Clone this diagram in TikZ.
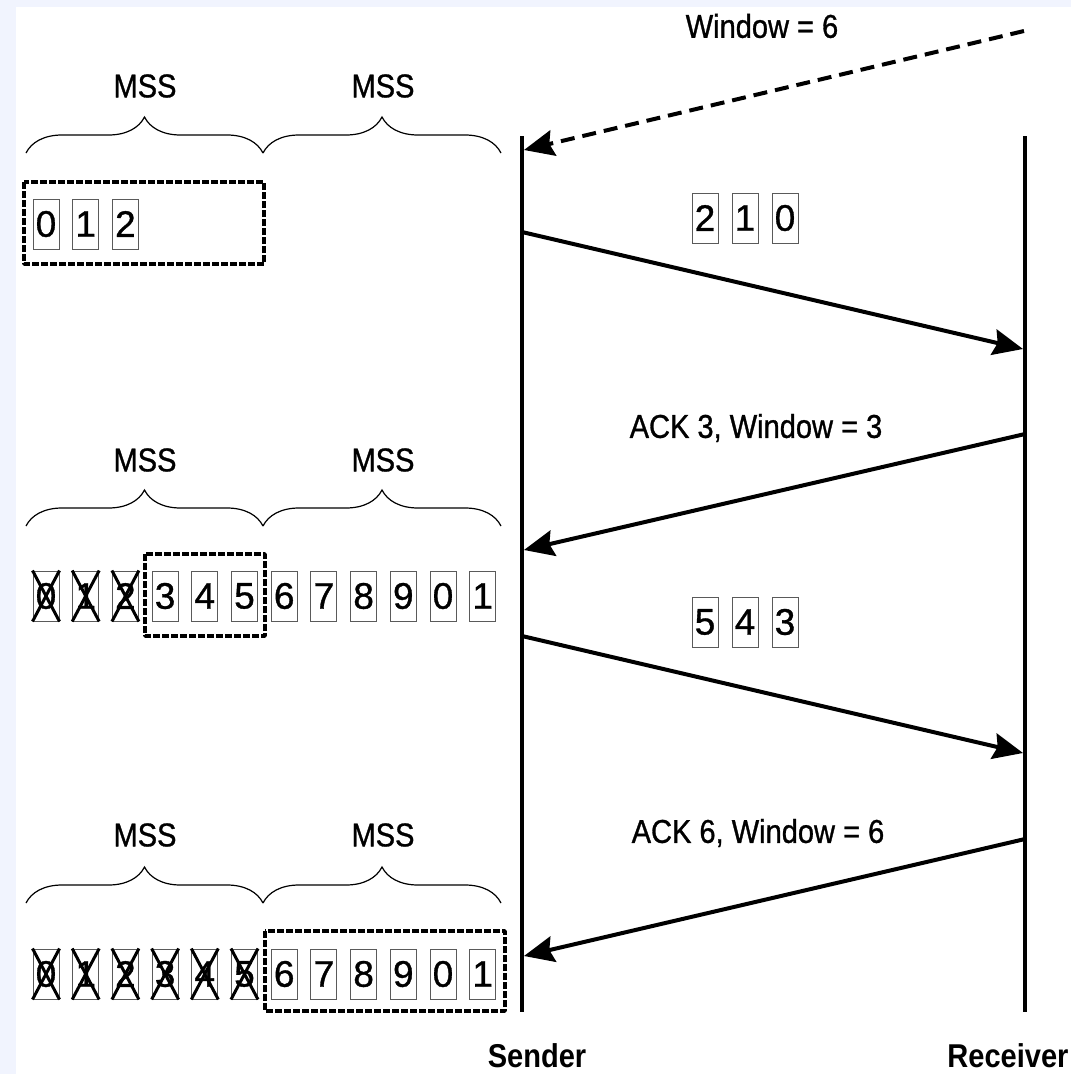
\documentclass[tikz,border=0pt]{standalone}
\usepackage{fontspec}
\setmainfont[FakeStretch=0.88]{Liberation Sans}
\newfontfamily\heavyfont[FakeStretch=0.88,FakeBold=0.9]{Liberation Sans}
\newfontfamily\digitfont[FakeBold=0.9]{Liberation Sans}
\usetikzlibrary{arrows.meta,decorations.pathreplacing}
\definecolor{margin}{RGB}{241,244,254}
\definecolor{cellline}{RGB}{90,90,90}

\begin{document}
\begin{tikzpicture}[x=1pt,y=-1pt,
  lbl/.style={font=\fontsize{33}{36}\selectfont\heavyfont},
  actor/.style={font=\fontsize{33}{36}\selectfont\bfseries},
  cell/.style={draw=cellline,line width=1pt,minimum width=26pt,minimum height=50pt,
    inner sep=0pt,font=\fontsize{37}{38}\selectfont\digitfont},
  gone/.style={line width=3pt},
  wnd/.style={line width=3.5pt,dash pattern=on 7pt off 2pt,line join=round},
  lifeline/.style={line width=3.5pt},
  msg/.style={line width=4pt,-{Stealth[length=30pt,width=26pt,inset=4pt]}},
  mss/.style={decorate,decoration={brace,amplitude=36pt},line width=1.2pt}]
\fill[margin] (0,0) rectangle (1071,1074);
\fill[white] (16,7) rectangle (1071,1074);
\useasboundingbox (0,0) rectangle (1071,1074);

\coordinate (sTop) at (522,136);
\coordinate (sBot) at (522,1012);
\coordinate (rTop) at (1025,136);
\coordinate (rBot) at (1025,1012);
\draw[lifeline] (sTop) -- (sBot);
\draw[lifeline] (rTop) -- (rBot);
\node[actor,anchor=base] (sender) at (537,1067) {Sender};
\node[actor,anchor=base] (receiver) at (1008,1067) {Receiver};

\coordinate (r0) at (1024,31);
\coordinate (s0) at (524,150);
\draw[msg,dash pattern=on 14pt off 8pt] (r0) -- (s0);
\node[lbl] (win0) at (762,26) {Window = 6};

\coordinate (s1) at (522,232);
\coordinate (r1) at (1023,349);
\draw[msg] (s1) -- (r1);
\foreach \d [count=\i from 0] in {2,1,0}
  \node[cell] (pa\i) at (705+40*\i,218) {\d};

\coordinate (r2) at (1025,434);
\coordinate (s2) at (524,550);
\draw[msg] (r2) -- (s2);
\node[lbl] (ack3) at (756,428) {ACK 3, Window = 3};

\coordinate (s3) at (522,636);
\coordinate (r3) at (1023,753);
\draw[msg] (s3) -- (r3);
\foreach \d [count=\i from 0] in {5,4,3}
  \node[cell] (pb\i) at (705+40*\i,622) {\d};

\coordinate (r4) at (1025,839);
\coordinate (s4) at (524,956);
\draw[msg] (r4) -- (s4);
\node[lbl] (ack6) at (758,833) {ACK 6, Window = 6};

\foreach \y/\n in {86/a,460/b,835/c} {
  \node[lbl] (mss\n1) at (145,\y) {MSS};
  \node[lbl] (mss\n2) at (383,\y) {MSS};
}
\foreach \y in {153,526,903} {
  \draw[mss] (26,\y) -- (263,\y);
  \draw[mss] (263,\y) -- (501,\y);
}

\foreach \d [count=\i from 0] in {0,1,2}
  \node[cell] (ba\i) at (46+39.7*\i,224) {\d};
\foreach \d [count=\i from 0] in {0,1,2,3,4,5,6,7,8,9,0,1} {
  \node[cell] (bb\i) at (46+39.7*\i,596) {\d};
  \node[cell] (bc\i) at (46+39.7*\i,974) {\d};
}
\foreach \i in {0,1,2}
  \draw[gone] (bb\i.north west) -- (bb\i.south east) (bb\i.north east) -- (bb\i.south west);
\foreach \i in {0,...,5}
  \draw[gone] (bc\i.north west) -- (bc\i.south east) (bc\i.north east) -- (bc\i.south west);

\draw[wnd] (24,182) rectangle (264,264);
\draw[wnd] (145,554) rectangle (265,636);
\draw[wnd] (265,931) rectangle (505,1011);
\end{tikzpicture}
\end{document}
